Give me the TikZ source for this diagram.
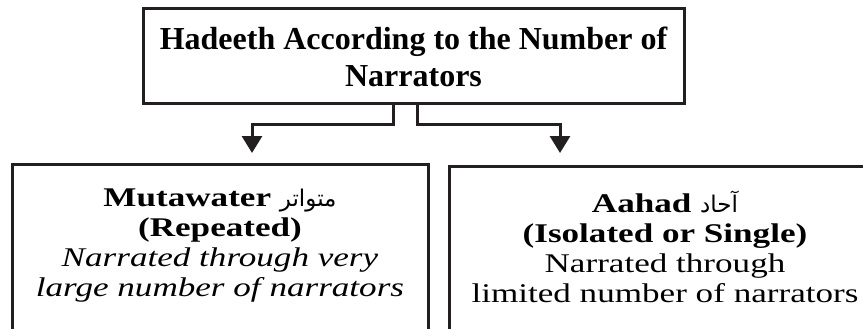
\documentclass[tikz,border=0pt]{standalone}
\usepackage{fontspec}
\setmainfont{Liberation Serif}
\newfontfamily\widefont[FakeStretch=1.3]{Liberation Serif}
\newfontfamily\arabicfont[Script=Arabic]{DejaVu Sans}
\TeXXeTstate=1
\usetikzlibrary{positioning,arrows.meta}
\definecolor{ink}{HTML}{231F20}

\begin{document}
\begin{tikzpicture}[x=1pt,y=-1pt,>={Triangle[width=20pt,length=17pt]},
  every node/.style={align=center,text=black},
  box/.style={draw=ink,line width=3pt,inner sep=0pt},
  kind/.style={box,anchor=north,minimum width=416pt,inner ysep=24pt,
    text depth=70pt,font=\widefont\fontsize{27}{30}\selectfont},
  conn/.style={->,draw=ink,line width=3pt}]
\useasboundingbox (0,0) rectangle (863,329);
\clip (0,0) rectangle (863,329);

\node[box,minimum width=541pt,minimum height=95pt,
  font=\fontsize{32}{37}\selectfont\bfseries] (hadeeth) at (413.5,56.5)
  {Hadeeth According to the Number of\\Narrators};

\node[kind] (mutawater) at (220,163)
  {{\bfseries Mutawater} {\arabicfont\fontsize{23}{30}\selectfont\beginR متواتر\endR}\\
   {\bfseries (Repeated)}\\
   {\itshape Narrated through very}\\
   {\itshape large number of narrators}};
\node[kind,minimum width=432pt] (aahad) at (665,165)
  {{\bfseries Aahad} {\arabicfont\fontsize{23}{30}\selectfont\beginR آحاد\endR}\\
   {\bfseries (Isolated or Single)}\\
   Narrated through\\
   limited number of narrators};

% arrow tips stop just above the boxes
\coordinate (tipL) at (252,153);
\coordinate (tipR) at (560,153);
\draw[conn] ([xshift=-20pt]hadeeth.south) -- ++(0,19) -| (tipL);
\draw[conn] ([xshift=4pt]hadeeth.south)   -- ++(0,19) -| (tipR);
\end{tikzpicture}
\end{document}
